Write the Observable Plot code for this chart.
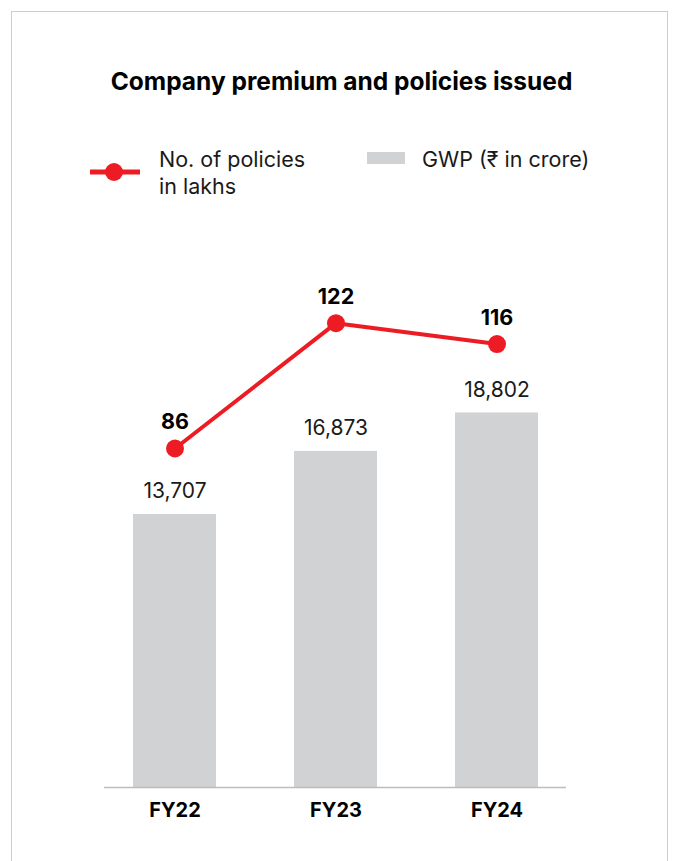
<!DOCTYPE html>
<html>
<head>
<meta charset="utf-8">
<script src="https://cdn.jsdelivr.net/npm/d3@7"></script>
<script src="https://cdn.jsdelivr.net/npm/@observablehq/plot@0.6"></script>
<style>
  html, body { margin: 0; padding: 0; background: #fff; overflow: hidden; width: 673px; height: 861px; }
  body { font-family: Inter, "Noto Sans", "DejaVu Sans", sans-serif; color: #111; }
  .abs { position: absolute; }
  #frame { left: 11px; top: 11px; width: 657px; height: 900px; border: 1.5px solid #cdcdcd; border-bottom: none; box-sizing: border-box; }
  #title { left: 341.5px; top: 66px; transform: translateX(-50%); white-space: nowrap; font-size: 24.5px; font-weight: 700; color: #000; }
  .legtext { font-size: 21.5px; line-height: 27px; color: #1a1a1a; white-space: nowrap; }
  #chart { left: 0; top: 230px; }
</style>
</head>
<body>
<div id="frame" class="abs"></div>
<div id="title" class="abs">Company premium and policies issued</div>
<svg class="abs" style="left:88px;top:160px" width="56" height="24">
  <line x1="2" y1="12" x2="52" y2="12" stroke="#ED1C24" stroke-width="5"></line>
  <circle cx="26" cy="12" r="9" fill="#ED1C24"></circle>
</svg>
<div class="abs legtext" style="left:159px;top:146px">No. of policies<br>in lakhs</div>
<div class="abs" style="left:367px;top:152px;width:38px;height:12px;background:#D1D2D4"></div>
<div class="abs legtext" style="left:422px;top:146px">GWP (₹ in crore)</div>
<div id="chart" class="abs"></div>
<script>
// ---- data ----
const years = ["FY22", "FY23", "FY24"];
const gwp = [13707, 16873, 18802];          // GWP (₹ in crore)
const policies = [86, 122, 116];            // No. of policies in lakhs

const data = years.map((year, i) => ({ year, gwp: gwp[i], policies: policies[i] }));

// secondary axis: policies mapped onto the GWP scale
const pol2gwp = d3.scaleLinear([80, 130], [15969, 24709]);
const fmt = d3.format(",");

const chart = Plot.plot({
  width: 673,
  height: 620,
  marginLeft: 104,
  marginRight: 107,
  marginTop: 0,
  marginBottom: 63,
  style: { fontFamily: 'Inter, "Noto Sans", "DejaVu Sans", sans-serif', background: "transparent", overflow: "visible" },
  x: { domain: years, paddingInner: 0.486, paddingOuter: 0.17, axis: null },
  y: { domain: [0, 27962], axis: null },
  marks: [
    Plot.barY(data, { x: "year", y: "gwp", fill: "#D1D2D4" }),
    Plot.ruleY([0], { stroke: "#BDBDBD", strokeWidth: 1.5 }),
    Plot.axisX({ label: null, tickSize: 0, tickPadding: 15, fontSize: 20, fontWeight: "bold", fill: "#000" }),
    Plot.text(data, { x: "year", y: "gwp", text: d => fmt(d.gwp), dy: -23, fontSize: 21, fill: "#1a1a1a" }),
    Plot.line(data, { x: "year", y: d => pol2gwp(d.policies), stroke: "#ED1C24", strokeWidth: 4 }),
    Plot.dot(data, { x: "year", y: d => pol2gwp(d.policies), r: 9, fill: "#ED1C24" }),
    Plot.text(data, { x: "year", y: d => pol2gwp(d.policies), text: d => String(d.policies), dy: -26, fontSize: 21.5, fontWeight: "bold", fill: "#000" })
  ]
});
document.getElementById("chart").appendChild(chart);
</script>
</body>
</html>
